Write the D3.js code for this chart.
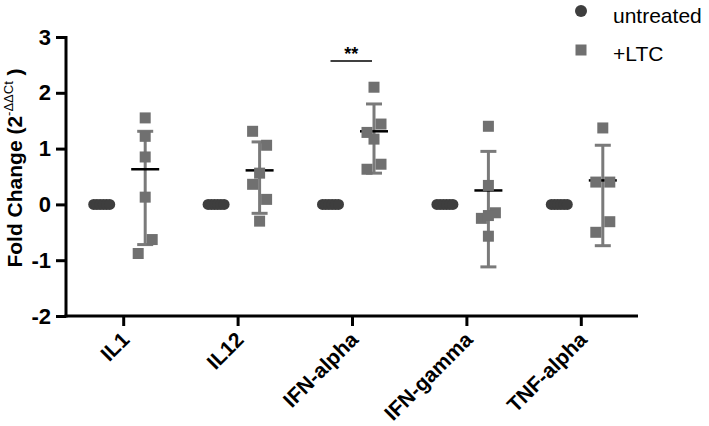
<!DOCTYPE html>
<html>
<head>
<meta charset="utf-8" />
<title>Fold change dot plot</title>
<script type="text/javascript" src="https://d3js.org/d3.v7.min.js"></script>
<style type="text/css">
    body { margin: 0; background: #fff; }
    svg text { font-family: "Liberation Sans", Arial, sans-serif; }
</style>
</head>
<body>
<svg width="709" height="426"></svg>
<script>
    // data
    var categories = ["IL1", "IL12", "IFN-alpha", "IFN-gamma", "TNF-alpha"];
    var untreated = [
        [0, 0, 0, 0, 0, 0],
        [0, 0, 0, 0, 0, 0],
        [0, 0, 0, 0, 0, 0],
        [0, 0, 0, 0, 0, 0],
        [0, 0, 0, 0, 0, 0]
    ];
    var ltc = [
        [1.55, 1.22, 0.85, 0.13, -0.63, -0.88],
        [1.31, 1.06, 0.56, 0.36, 0.09, -0.30],
        [2.10, 1.44, 1.29, 1.17, 0.72, 0.63],
        [1.40, 0.34, -0.15, -0.25, -0.20, -0.57],
        [1.37, 0.40, 0.40, -0.31, -0.50]
    ];
    // side-by-side dodge of overlapping squares (-1 left, 0 centre, 1 right)
    var ltcDodge = [
        [0, 0, 0, 0, 1, -1],
        [-1, 1, 0, -1, 1, 0],
        [0, 1, -1, 0, 1, -1],
        [0, 0, 1, -1, 0, 0],
        [0, -1, 1, 1, -1]
    ];
    var ltcMean = [0.63, 0.61, 1.31, 0.25, 0.43];
    var ltcUpper = [1.31, 1.12, 1.80, 0.95, 1.06];
    var ltcLower = [-0.72, -0.16, 0.56, -1.12, -0.74];
    var yTicks = [-2, -1, 0, 1, 2, 3];
    var sigCategory = "IFN-alpha";
    var sigLevel = 2.57;
    var sigLabel = "**";

    var svg = d3.select("svg");

    var mLeft = 66, mRight = 638, mTop = 37, mBottom = 316;
    var offU = -21.5, offL = 22; // group offsets around each tick

    var x = d3.scalePoint()
        .domain(categories)
        .range([mLeft, mRight])
        .padding(0.5);

    var y = d3.scaleLinear()
        .domain([-2, 3])
        .range([mBottom, mTop]);

    var darkGrey = "#3e3e3e";
    var midGrey = "#707070";
    var barGrey = "#7a7a7a";

    // axes (plain hyphen for negatives, like the original)
    var yAxis = svg.append("g")
        .attr("transform", "translate(" + mLeft + ",0)")
        .call(d3.axisLeft(y).tickValues(yTicks).tickSize(10).tickSizeOuter(0).tickPadding(5)
            .tickFormat(function(d) { return String(d); }));
    yAxis.select(".domain").attr("stroke-width", 3).attr("d", "M0," + (mTop - 1) + "V" + (mBottom + 1.5));
    yAxis.selectAll(".tick line").attr("stroke-width", 3);
    yAxis.selectAll(".tick text")
        .attr("font-size", 22)
        .attr("font-weight", "bold")
        .attr("fill", "#000");

    var xAxis = svg.append("g")
        .attr("transform", "translate(0," + mBottom + ")")
        .call(d3.axisBottom(x).tickSize(10).tickSizeOuter(0));
    xAxis.select(".domain").attr("stroke-width", 3).attr("d", "M" + (mLeft - 1.5) + ",0H" + mRight);
    xAxis.selectAll(".tick line").attr("stroke-width", 3);
    xAxis.selectAll(".tick text")
        .attr("font-size", 21)
        .attr("font-weight", "bold")
        .attr("fill", "#000")
        .attr("text-anchor", "end")
        .attr("x", 0)
        .attr("y", 0)
        .attr("dy", 0)
        .attr("transform", "translate(7,25) rotate(-45)");

    // y axis title
    var title = svg.append("text")
        .attr("transform", "translate(22,168) rotate(-90)")
        .attr("text-anchor", "middle")
        .attr("font-size", 21)
        .attr("font-weight", "bold")
        .attr("fill", "#000");
    title.append("tspan").text("Fold Change (2");
    title.append("tspan").attr("font-size", 13).attr("font-weight", "normal").attr("dy", -9).text("-\u0394\u0394Ct");
    title.append("tspan").attr("dy", 9).text(" )");

    var plot = svg.append("g");

    // untreated: overlapping circles at zero
    categories.forEach(function(c, ci) {
        var n = untreated[ci].length;
        var spread = d3.scaleLinear().domain([0, n - 1]).range([-8, 8]);
        plot.selectAll(null)
            .data(untreated[ci])
            .enter()
            .append("circle")
            .attr("cx", function(d, i) { return x(c) + offU + spread(i); })
            .attr("cy", function(d) { return y(d); })
            .attr("r", 5.5)
            .attr("fill", darkGrey);
    });

    // +LTC: error bars, mean line, squares
    categories.forEach(function(c, ci) {
        var cx = x(c) + offL;
        var g = plot.append("g");
        g.append("line")
            .attr("x1", cx).attr("x2", cx)
            .attr("y1", y(ltcUpper[ci])).attr("y2", y(ltcLower[ci]))
            .attr("stroke", barGrey).attr("stroke-width", 3);
        [ltcUpper[ci], ltcLower[ci]].forEach(function(v) {
            g.append("line")
                .attr("x1", cx - 8).attr("x2", cx + 8)
                .attr("y1", y(v)).attr("y2", y(v))
                .attr("stroke", barGrey).attr("stroke-width", 3);
        });
        g.append("line")
            .attr("x1", cx - 14).attr("x2", cx + 14)
            .attr("y1", y(ltcMean[ci])).attr("y2", y(ltcMean[ci]))
            .attr("stroke", "#000").attr("stroke-width", 2.5);
        g.selectAll("rect")
            .data(ltc[ci])
            .enter()
            .append("rect")
            .attr("x", function(d, i) { return cx + ltcDodge[ci][i] * 7 - 5.5; })
            .attr("y", function(d) { return y(d) - 5.5; })
            .attr("width", 11)
            .attr("height", 11)
            .attr("fill", midGrey);
    });

    // significance bracket
    var sx1 = x(sigCategory) + offU, sx2 = x(sigCategory) + offL - 2;
    svg.append("line")
        .attr("x1", sx1).attr("x2", sx2)
        .attr("y1", y(sigLevel)).attr("y2", y(sigLevel))
        .attr("stroke", "#000").attr("stroke-width", 1.5);
    svg.append("text")
        .attr("x", (sx1 + sx2) / 2)
        .attr("y", y(sigLevel) - 1)
        .attr("text-anchor", "middle")
        .attr("font-size", 18)
        .attr("font-weight", "bold")
        .attr("fill", "#000")
        .text(sigLabel);

    // legend
    var legend = svg.append("g");
    legend.append("circle").attr("cx", 581).attr("cy", 11).attr("r", 6).attr("fill", darkGrey);
    legend.append("text").attr("x", 613).attr("y", 23).attr("font-size", 21).attr("fill", "#000").text("untreated");
    legend.append("rect").attr("x", 575.5).attr("y", 44.5).attr("width", 11).attr("height", 11).attr("fill", midGrey);
    legend.append("text").attr("x", 613).attr("y", 61).attr("font-size", 21).attr("fill", "#000").text("+LTC");
</script>
</body>
</html>
